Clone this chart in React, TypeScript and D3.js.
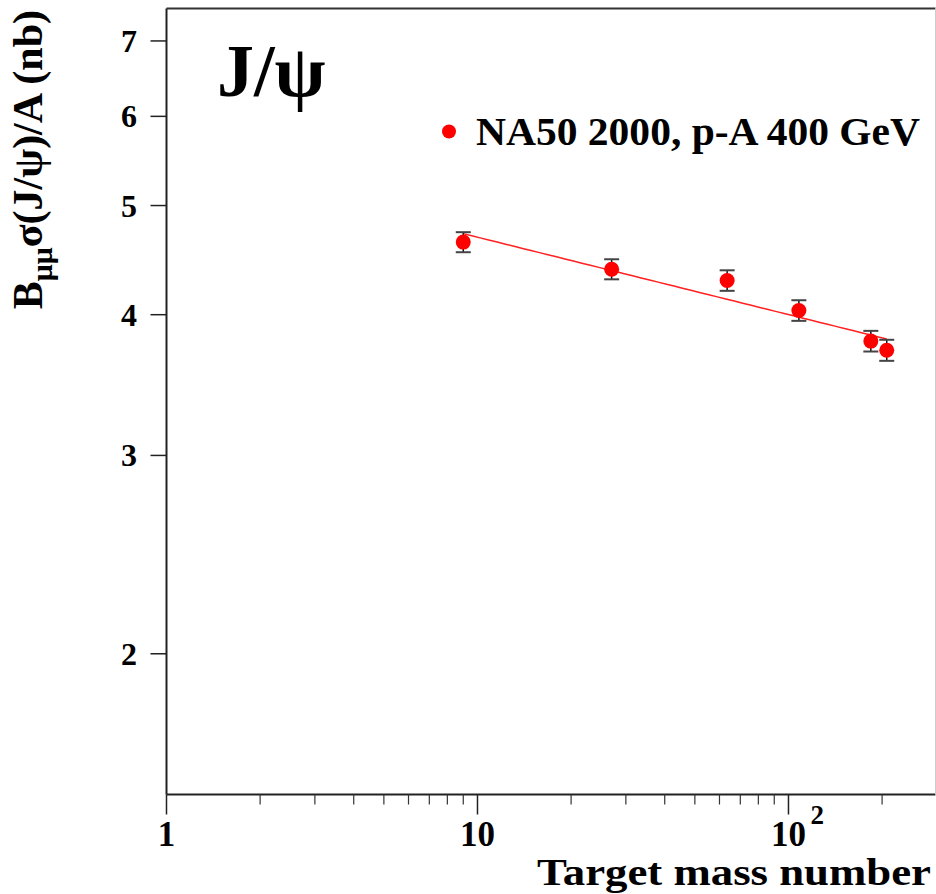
import React from "react";
import * as d3 from "d3";

const massNumbers = [9, 27, 63.5, 108, 184, 207];
const sigmaOverA = [4.64, 4.39, 4.29, 4.035, 3.79, 3.72];
const sigmaErr = [0.095, 0.09, 0.09, 0.085, 0.08, 0.08];
const fitParams = { sigma0: 5.49, alphaMinus1: -0.0687, aMin: 9, aMax: 207 };
const xMajorTicks = [1, 10, 100];
const xMinorTicks = [2, 3, 4, 5, 6, 7, 8, 9, 20, 30, 40, 50, 60, 70, 80, 90, 200];
const yTicks = [2, 3, 4, 5, 6, 7];
const legendLabel = "NA50 2000, p-A 400 GeV";

const W = 936;
const H = 894;
const left = 166.5;
const right = 935.5;
const top = 8.5;
const bottom = 794.5;
const FONT = "'Liberation Serif', 'Times New Roman', serif";

export default function App() {
  const x = d3.scaleLog().domain([1, 297]).range([left, right]);
  const y = d3.scaleLog().domain([1.5, 7.48]).range([bottom, top]);

  const fitA = d3.range(0, 51).map((i) => fitParams.aMin * Math.pow(fitParams.aMax / fitParams.aMin, i / 50));
  const line = d3
    .line<number>()
    .x((a) => x(a))
    .y((a) => y(fitParams.sigma0 * Math.pow(a, fitParams.alphaMinus1)));

  return (
    <svg
      width={W}
      height={H}
      style={{ position: "absolute", left: 0, top: 0, background: "#fff" }}
      fontFamily={FONT}
      fontWeight="bold"
    >
      {/* frame */}
      <line x1={left} x2={right} y1={top} y2={top} stroke="#333" strokeWidth={2} />
      <line x1={left} x2={right} y1={bottom} y2={bottom} stroke="#222" strokeWidth={2} />
      <line x1={left} x2={left} y1={top} y2={bottom} stroke="#222" strokeWidth={2} />
      <line x1={right} x2={right} y1={top} y2={bottom} stroke="#ccc" strokeWidth={1} />

      {/* x ticks */}
      {xMajorTicks.map((t) => (
        <line key={"M" + t} x1={x(t)} x2={x(t)} y1={bottom} y2={bottom + 20} stroke="#222" strokeWidth={1.5} />
      ))}
      {xMinorTicks.map((t) => (
        <line key={"m" + t} x1={x(t)} x2={x(t)} y1={bottom} y2={bottom + 10} stroke="#333" strokeWidth={1.2} />
      ))}
      <text x={x(1)} y={846} fontSize={35} textAnchor="middle">1</text>
      <text x={x(10)} y={846} fontSize={35} textAnchor="middle">10</text>
      <text x={x(100)} y={846} fontSize={35} textAnchor="middle">10</text>
      <text x={x(100) + 22} y={824} fontSize={27} textAnchor="start">2</text>

      {/* y ticks */}
      {yTicks.map((t) => (
        <g key={"y" + t}>
          <line x1={left - 16} x2={left} y1={y(t)} y2={y(t)} stroke="#222" strokeWidth={1.5} />
          <text x={137} y={y(t) + 11} fontSize={32} textAnchor="end">{t}</text>
        </g>
      ))}

      {/* axis titles */}
      <text x={931} y={885} fontSize={38} textAnchor="end" textLength={394} lengthAdjust="spacingAndGlyphs">
        Target mass number
      </text>
      <text transform="translate(42,10) rotate(-90)" fontSize={42} textAnchor="end">
        B<tspan fontSize={30} dy={10}>μμ</tspan>
        <tspan dy={-10}>σ(J/ψ)/A (nb)</tspan>
      </text>

      {/* J/psi label */}
      <text x={217} y={96} fontSize={74}>J/ψ</text>

      {/* fit */}
      <path d={line(fitA) || ""} fill="none" stroke="#ff2020" strokeWidth={1.5} />

      {/* data */}
      {massNumbers.map((a, i) => {
        const cx = x(a);
        const yHi = y(sigmaOverA[i] + sigmaErr[i]);
        const yLo = y(sigmaOverA[i] - sigmaErr[i]);
        return (
          <g key={"p" + i}>
            <line x1={cx} x2={cx} y1={yHi} y2={yLo} stroke="#111" strokeWidth={1.5} />
            <line x1={cx - 7.5} x2={cx + 7.5} y1={yHi} y2={yHi} stroke="#444" strokeWidth={2} />
            <line x1={cx - 7.5} x2={cx + 7.5} y1={yLo} y2={yLo} stroke="#444" strokeWidth={2} />
            <circle cx={cx} cy={y(sigmaOverA[i])} r={7.5} fill="#ff0000" />
          </g>
        );
      })}

      {/* legend */}
      <circle cx={449} cy={131.5} r={7} fill="#ff0000" />
      <text x={476} y={145} fontSize={39} textLength={444} lengthAdjust="spacingAndGlyphs">
        {legendLabel}
      </text>
    </svg>
  );
}
